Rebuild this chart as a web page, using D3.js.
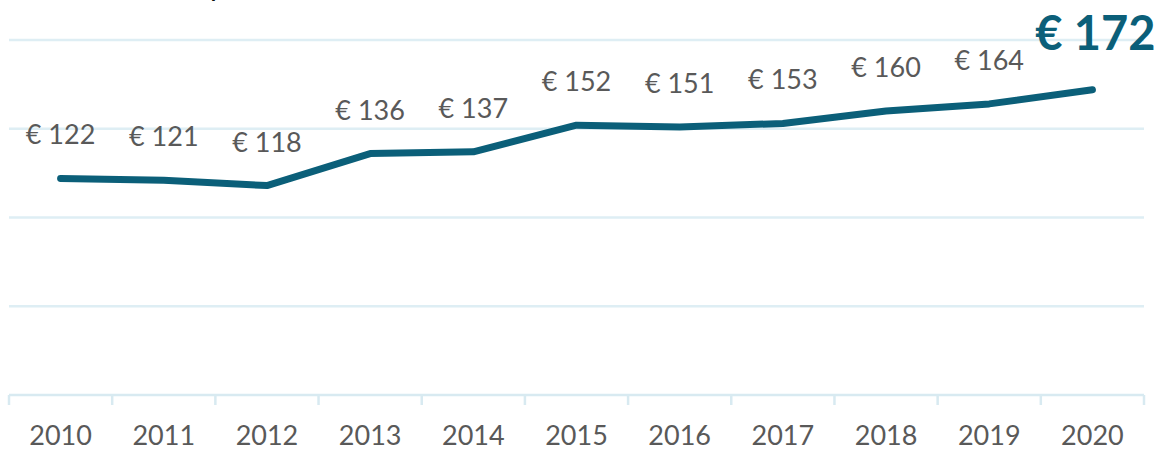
<!DOCTYPE html>
<html>
<head>
<meta charset="utf-8">
<script src="https://cdn.jsdelivr.net/npm/d3@7"></script>
<style>
  html, body { margin: 0; padding: 0; background: #fff; }
  svg { display: block; }
</style>
</head>
<body>
<div id="chart"></div>
<script>
const years = ["2010", "2011", "2012", "2013", "2014", "2015", "2016", "2017", "2018", "2019", "2020"];
const values = [122, 121, 118, 136, 137, 152, 151, 153, 160, 164, 172];
const gridValues = [0, 50, 100, 150, 200];

const W = 1160, H = 449;
const margin = { left: 9, right: 16, top: 40, bottom: 54 };

const svg = d3.select("#chart")
    .append("svg")
    .attr("width", W)
    .attr("height", H);

const xScale = d3.scaleBand().domain(years).range([margin.left, W - margin.right]);
const yScale = d3.scaleLinear().domain([0, 200]).range([H - margin.bottom, margin.top]);
const cx = d => xScale(d) + xScale.bandwidth() / 2;

// clipped title, only a descender shows at the top edge
svg.append("text")
    .attr("x", 210)
    .attr("y", -4)
    .attr("font-family", "Lato, sans-serif")
    .attr("font-size", "30px")
    .attr("fill", "#111")
    .text("p");

// gridlines
svg.selectAll(".grid")
    .data(gridValues.filter(d => d > 0))
    .enter().append("line")
    .attr("class", "grid")
    .attr("x1", margin.left)
    .attr("x2", W - margin.right)
    .attr("y1", d => yScale(d))
    .attr("y2", d => yScale(d))
    .attr("stroke", "#deeef4")
    .attr("stroke-width", 2.5);

// x axis
const xAxis = svg.append("g")
    .attr("transform", `translate(0,${yScale(0)})`);
xAxis.append("line")
    .attr("x1", margin.left)
    .attr("x2", W - margin.right)
    .attr("stroke", "#d8eaf1")
    .attr("stroke-width", 2.5);
const tickPos = years.map(d => xScale(d)).concat([xScale.range()[1]]);
xAxis.selectAll(".tick")
    .data(tickPos)
    .enter().append("line")
    .attr("x1", d => d)
    .attr("x2", d => d)
    .attr("y1", 0)
    .attr("y2", 10)
    .attr("stroke", "#d8eaf1")
    .attr("stroke-width", 2.5);
xAxis.selectAll(".yearLabel")
    .data(years)
    .enter().append("text")
    .attr("x", d => cx(d))
    .attr("y", 50)
    .attr("text-anchor", "middle")
    .attr("font-family", "Lato, sans-serif")
    .attr("font-size", "27px")
    .attr("fill", "#595959")
    .text(d => d);

// line
const line = d3.line()
    .x((d, i) => cx(years[i]))
    .y(d => yScale(d));
svg.append("path")
    .datum(values)
    .attr("d", line)
    .attr("fill", "none")
    .attr("stroke", "#0b5f79")
    .attr("stroke-width", 7)
    .attr("stroke-linecap", "round")
    .attr("stroke-linejoin", "round");

// data labels
const last = values.length - 1;
svg.selectAll(".valueLabel")
    .data(values.slice(0, last))
    .enter().append("text")
    .attr("class", "valueLabel")
    .attr("x", (d, i) => cx(years[i]))
    .attr("y", d => yScale(d) - 34)
    .attr("text-anchor", "middle")
    .attr("font-family", "Lato, sans-serif")
    .attr("font-size", "27px")
    .attr("fill", "#595959")
    .text(d => "€ " + d);

svg.append("text")
    .attr("x", cx(years[last]) + 3)
    .attr("y", yScale(values[last]) - 40)
    .attr("text-anchor", "middle")
    .attr("font-family", "Lato, sans-serif")
    .attr("font-weight", "bold")
    .attr("font-size", "47px")
    .attr("fill", "#0b5f79")
    .text("€ " + values[last]);
</script>
</body>
</html>
